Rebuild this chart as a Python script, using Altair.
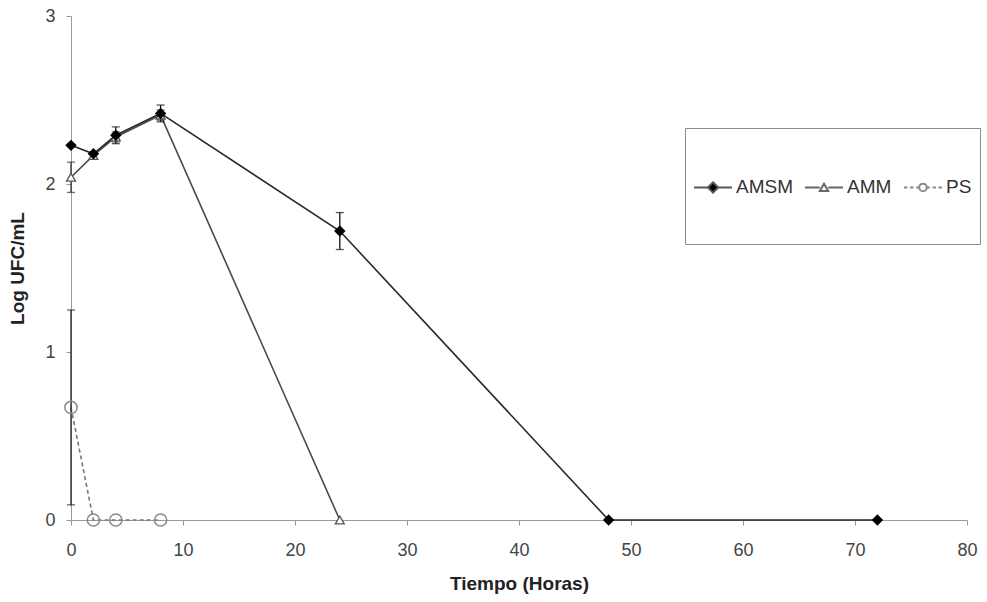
import altair as alt
import pandas as pd

# ---- data ----
series = ["AMSM", "AMM", "PS"]

amsm_t = [0, 2, 4, 8, 24, 48, 72]
amsm_y = [2.23, 2.18, 2.29, 2.42, 1.72, 0.0, 0.0]
amsm_e = [0.0, 0.0, 0.05, 0.05, 0.11, 0.0, 0.0]

amm_t = [0, 2, 4, 8, 24]
amm_y = [2.04, 2.17, 2.28, 2.41, 0.0]
amm_e = [0.09, 0.0, 0.03, 0.03, 0.0]

ps_t = [0, 2, 4, 8]
ps_y = [0.67, 0.0, 0.0, 0.0]
ps_e = [0.58, 0.0, 0.0, 0.0]

x_ticks = [0, 10, 20, 30, 40, 50, 60, 70, 80]
y_ticks = [0, 1, 2, 3]


def frame(t, y, e):
    df = pd.DataFrame({"t": t, "y": y, "e": e})
    df["lo"] = df["y"] - df["e"]
    df["hi"] = df["y"] + df["e"]
    return df


amsm = frame(amsm_t, amsm_y, amsm_e)
amm = frame(amm_t, amm_y, amm_e)
ps = frame(ps_t, ps_y, ps_e)

FONT = "Liberation Sans"
AX = "#9a9a9a"

x_axis = alt.Axis(values=x_ticks, grid=False, domainColor=AX, tickColor=AX, tickSize=5,
                  labelFlush=False, labelOverlap=False,
                  labelFont=FONT, labelFontSize=18, labelColor="#444", labelPadding=16,
                  titleFont=FONT, titleFontSize=19, titleFontWeight="bold", titleColor="#222",
                  titlePadding=15)
y_axis = alt.Axis(values=y_ticks, grid=False, domainColor=AX, tickColor=AX, tickSize=5,
                  labelFlush=False, labelOverlap=False,
                  labelFont=FONT, labelFontSize=18, labelColor="#444", labelPadding=11,
                  titleFont=FONT, titleFontSize=19, titleFontWeight="bold", titleColor="#222",
                  titlePadding=17)
xs = alt.Scale(domain=[0, 80], nice=False, zero=False)
ys = alt.Scale(domain=[0, 3], nice=False)


def X():
    return alt.X("t:Q", scale=xs, axis=x_axis, title="Tiempo (Horas)")


def Y(f="y"):
    return alt.Y(f"{f}:Q", scale=ys, axis=y_axis, title="Log UFC/mL")


def line(df, color, dash=None, width=1.6):
    kw = dict(color=color, strokeWidth=width)
    if dash:
        kw["strokeDash"] = dash
    return alt.Chart(df).mark_line(**kw).encode(x=X(), y=Y())


def errbar(df, color):
    d = df[df["e"] > 0]
    rule = alt.Chart(d).mark_rule(color=color, strokeWidth=1.3).encode(
        x=X(), y=Y("lo"), y2="hi")
    cap_lo = alt.Chart(d).mark_tick(color=color, orient="horizontal", size=8, thickness=1.3).encode(
        x=X(), y=Y("lo"))
    cap_hi = alt.Chart(d).mark_tick(color=color, orient="horizontal", size=8, thickness=1.3).encode(
        x=X(), y=Y("hi"))
    return rule + cap_lo + cap_hi


layers = [
    line(ps, "#777777", dash=[4, 3], width=1.6),
    line(amm, "#4a4a4a"),
    line(amsm, "#2a2a2a"),
    errbar(ps, "#222222"),
    errbar(amm, "#333333"),
    errbar(amsm, "#111111"),
    alt.Chart(ps).mark_point(shape="circle", size=150, filled=False, color="#8a8a8a",
                             strokeWidth=1.5, opacity=1).encode(x=X(), y=Y()),
    alt.Chart(amm).mark_point(shape="triangle-up", size=80, filled=True, fill="white",
                              stroke="#555555", strokeWidth=1.3, opacity=1).encode(x=X(), y=Y()),
    alt.Chart(amsm).mark_point(shape="diamond", size=130, filled=True, color="#000000",
                               opacity=1).encode(x=X(), y=Y()),
]

# legend-only layer (no rows drawn; entries come from the explicit domain)
EXT = "M0,2.32"  # invisible point that gives the legend box its lower height
leg_paths = [
    EXT + "M-1,0L-0.3,0M0.3,0L1,0M0,-0.27L0.27,0L0,0.27L-0.27,0Z",
    EXT + "M-1,0L-0.22,0M0.22,0L1,0M0,-0.2L0.22,0.18L-0.22,0.18Z",
    EXT + "M-1,0L-0.82,0M-0.68,0L-0.5,0M-0.36,0L-0.22,0M0.22,0L0.36,0M0.5,0L0.68,0M0.82,0L1,0"
    "M0.2,0A0.2,0.2 0 1,1 -0.2,0A0.2,0.2 0 1,1 0.2,0Z",
]
legend_df = pd.DataFrame({"s": series})
LEG = dict(title=" ", orient="none", legendX=614, legendY=112, direction="horizontal", columns=3,
           titleFontSize=19, titlePadding=12, titleOrient="top")
legend_layer = alt.Chart(legend_df).transform_filter("false").mark_point(
    filled=True, strokeWidth=2, opacity=1
).encode(
    shape=alt.Shape("s:N", scale=alt.Scale(domain=series, range=leg_paths),
                    legend=alt.Legend(
                        symbolSize=1444, symbolStrokeWidth=2,
                        labelFont=FONT, labelFontSize=19, labelColor="#333",
                        labelOffset=3, columnPadding=8,
                        strokeColor="#8a8a8a", fillColor="white", padding=8, **LEG)),
    fill=alt.Fill("s:N", scale=alt.Scale(domain=series, range=["#000000", "#ffffff", "#ffffff"]),
                  legend=alt.Legend(**LEG)),
    stroke=alt.Stroke("s:N", scale=alt.Scale(domain=series, range=["#555555", "#666666", "#888888"]),
                      legend=alt.Legend(**LEG)),
)

chart = alt.layer(*layers, legend_layer).properties(
    width=896, height=504,
    autosize=alt.AutoSizeParams(type="none"),
    padding={"left": 71, "top": 16, "right": 20, "bottom": 82},
    background="white",
).configure_view(stroke=None)

chart.save("out.html", embed_options={"renderer": "svg", "actions": False})
